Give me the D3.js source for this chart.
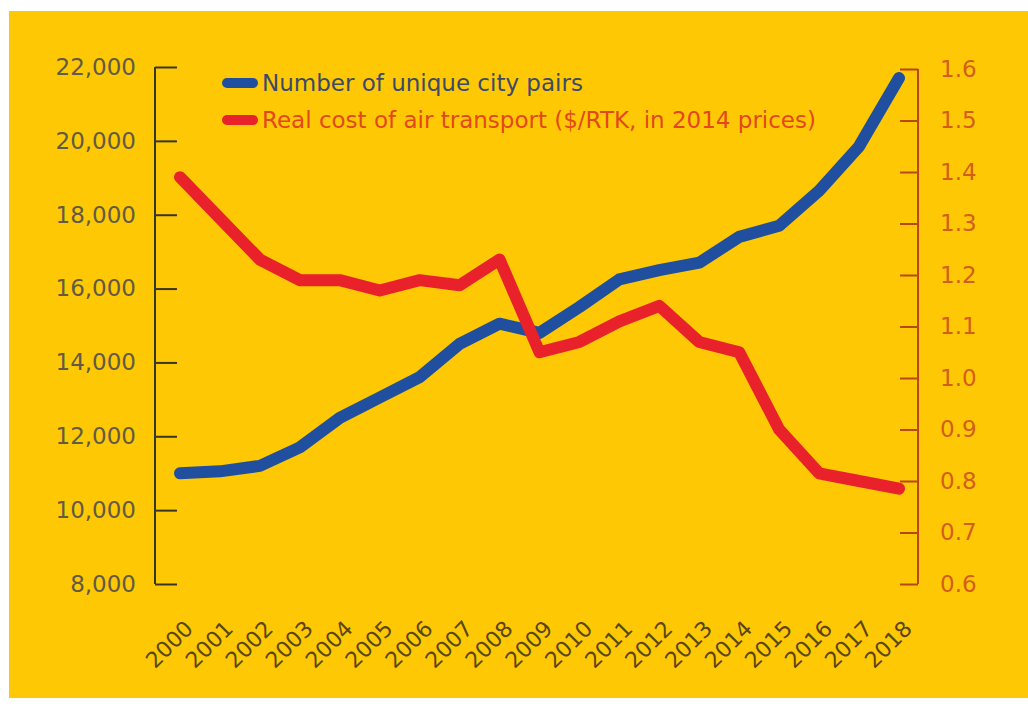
<!DOCTYPE html>
<html>
<head>
<meta charset="utf-8">
<script src="https://cdn.jsdelivr.net/npm/d3@7"></script>
<style>
  html, body { margin: 0; padding: 0; background: #ffffff; }
  svg { display: block; }
  text { font-family: "DejaVu Sans", "Liberation Sans", sans-serif; }
</style>
</head>
<body>
<script>
// Years on the horizontal axis
const years = [2000, 2001, 2002, 2003, 2004, 2005, 2006, 2007, 2008, 2009,
               2010, 2011, 2012, 2013, 2014, 2015, 2016, 2017, 2018];

// Number of unique city pairs (left axis)
const cityPairs = [11000, 11050, 11200, 11700, 12500, 13050, 13600, 14500, 15050, 14800,
                   15500, 16250, 16500, 16700, 17400, 17700, 18650, 19850, 21700];

// Real cost of air transport, $/RTK in 2014 prices (right axis)
const realCost = [1.39, 1.31, 1.23, 1.19, 1.19, 1.17, 1.19, 1.18, 1.23, 1.05,
                  1.07, 1.11, 1.14, 1.07, 1.05, 0.90, 0.815, 0.80, 0.785];

// Axis ticks
const leftTicks = [8000, 10000, 12000, 14000, 16000, 18000, 20000, 22000];
const rightTicks = [0.6, 0.7, 0.8, 0.9, 1.0, 1.1, 1.2, 1.3, 1.4, 1.5, 1.6];

// Legend entries
const seriesNames = ["Number of unique city pairs",
                     "Real cost of air transport ($/RTK, in 2014 prices)"];

const W = 1028, H = 709;
const colors = {
  bg: "#ffc805",
  blue: "#1f4f9e",
  red: "#e8212b",
  leftAxis: "#36372a",
  leftText: "#625a45",
  rightAxis: "#b9470e",
  rightText: "#d35e1c",
  xText: "#5a4612",
  legendBlue: "#3c4a6a",
  legendRed: "#e2481c"
};

const svg = d3.select("body").append("svg")
  .attr("width", W).attr("height", H);

// Yellow panel
svg.append("rect")
  .attr("x", 9).attr("y", 11)
  .attr("width", W - 9).attr("height", 687)
  .attr("fill", colors.bg);

const axisLeftX = 155, axisRightX = 918;

const x = d3.scalePoint().domain(years).range([180, 899]);
const yL = d3.scaleLinear().domain([8000, 22000]).range([584, 67]);
const yR = d3.scaleLinear().domain([0.6, 1.6]).range([584, 69]);

// Left axis: ticks pointing inward
const gL = svg.append("g").attr("transform", `translate(${axisLeftX},0)`)
  .call(d3.axisLeft(yL).tickValues(leftTicks).tickSize(-22).tickPadding(19)
    .tickFormat(d3.format(",")));
gL.select(".domain").remove();
gL.append("line").attr("x1", 0).attr("x2", 0)
  .attr("y1", yL(22000)).attr("y2", yL(8000))
  .attr("stroke", colors.leftAxis).attr("stroke-width", 2);
gL.selectAll(".tick line").attr("stroke", colors.leftAxis).attr("stroke-width", 2);
gL.selectAll(".tick text")
  .attr("fill", colors.leftText)
  .style("font-size", "23px")
  .attr("text-anchor", "end");

// Right axis: ticks pointing inward
const gR = svg.append("g").attr("transform", `translate(${axisRightX},0)`)
  .call(d3.axisRight(yR).tickValues(rightTicks).tickSize(-18).tickPadding(22)
    .tickFormat(d3.format(".1f")));
gR.select(".domain").remove();
gR.append("line").attr("x1", 0).attr("x2", 0)
  .attr("y1", yR(1.6)).attr("y2", yR(0.6))
  .attr("stroke", colors.rightAxis).attr("stroke-width", 2);
gR.selectAll(".tick line").attr("stroke", colors.rightAxis).attr("stroke-width", 2);
gR.selectAll(".tick text")
  .attr("fill", colors.rightText)
  .style("font-size", "23px");

// Rotated year labels
const gX = svg.append("g")
  .call(d3.axisBottom(x).tickSize(0).tickFormat(d => String(d)));
gX.select(".domain").remove();
gX.selectAll(".tick text")
  .attr("fill", colors.xText)
  .style("font-size", "22px")
  .attr("text-anchor", "end")
  .attr("y", 0).attr("dy", 0)
  .attr("transform", "translate(14,630) rotate(-45)");

// Series lines
const lineBlue = d3.line().x((d, i) => x(years[i])).y(d => yL(d));
const lineRed = d3.line().x((d, i) => x(years[i])).y(d => yR(d));

svg.append("path").datum(cityPairs)
  .attr("d", lineBlue)
  .attr("fill", "none").attr("stroke", colors.blue)
  .attr("stroke-width", 12).attr("stroke-linecap", "round").attr("stroke-linejoin", "round");

svg.append("path").datum(realCost)
  .attr("d", lineRed)
  .attr("fill", "none").attr("stroke", colors.red)
  .attr("stroke-width", 12).attr("stroke-linecap", "round").attr("stroke-linejoin", "round");

// Legend
const legend = svg.append("g");
const legendRows = [
  { name: seriesNames[0], stroke: colors.blue, text: colors.legendBlue, y: 83 },
  { name: seriesNames[1], stroke: colors.red, text: colors.legendRed, y: 120 }
];
legendRows.forEach(r => {
  legend.append("line")
    .attr("x1", 227).attr("x2", 253).attr("y1", r.y).attr("y2", r.y)
    .attr("stroke", r.stroke).attr("stroke-width", 10).attr("stroke-linecap", "round");
  legend.append("text")
    .attr("x", 262).attr("y", r.y).attr("dy", "0.36em")
    .attr("fill", r.text)
    .style("font-size", "23px")
    .text(r.name);
});
</script>
</body>
</html>
